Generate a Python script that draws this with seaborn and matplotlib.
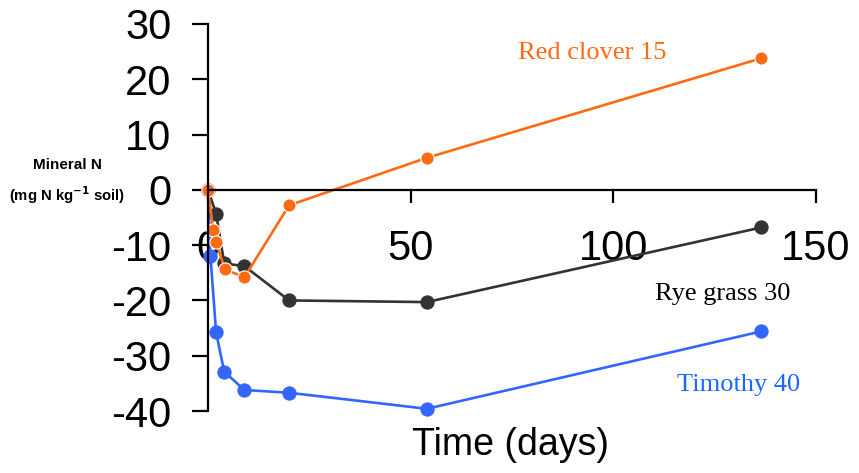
import matplotlib
matplotlib.use("Agg")
import matplotlib.pyplot as plt
import seaborn as sns
import pandas as pd

# Mineral N change over time for three incorporated residues
clover_days = [0, 1.3, 2, 4.2, 9, 20, 54, 136.5]
clover_n = [0, -7.3, -9.5, -14.4, -15.8, -2.8, 5.8, 23.8]

rye_days = [0, 2, 4, 9, 20, 54, 136.5]
rye_n = [0, -4.3, -13.3, -13.8, -20.0, -20.3, -6.8]

timothy_days = [0, 0.6, 2, 4, 9, 20, 54, 136.5]
timothy_n = [0, -12.0, -25.8, -32.9, -36.2, -36.7, -39.6, -25.6]

series_names = ["Timothy 40", "Rye grass 30", "Red clover 15"]
colors = {"Timothy 40": "#3366ff", "Rye grass 30": "#333333", "Red clover 15": "#ff6a13"}

x_ticks = [0, 50, 100, 150]
y_ticks = [30, 20, 10, 0, -10, -20, -30, -40]

frames = []
for name, d, v in [("Timothy 40", timothy_days, timothy_n),
                   ("Rye grass 30", rye_days, rye_n),
                   ("Red clover 15", clover_days, clover_n)]:
    frames.append(pd.DataFrame({"day": d, "n": v, "residue": name}))
df = pd.concat(frames, ignore_index=True)

sns.set_theme(style="white")
plt.rcParams["font.family"] = ["Liberation Sans", "DejaVu Sans"]

fig = plt.figure(figsize=(8.59, 4.73), dpi=100)
ax = fig.add_axes([208 / 859, 1 - 411 / 473, 608 / 859, 387 / 473])

for name in series_names:
    sub = df[df["residue"] == name]
    edge = "white" if name == "Red clover 15" else colors[name]
    sns.lineplot(data=sub, x="day", y="n", ax=ax, sort=False, color=colors[name],
                 linewidth=1.9, marker="o", markersize=9.5, markeredgecolor=edge,
                 markeredgewidth=0.8, clip_on=False, legend=False)

ax.set_xlim(0, 150)
ax.set_ylim(-40, 30)
ax.set_xticks(x_ticks)
ax.set_yticks(y_ticks)
ax.set_xticklabels([str(t) for t in x_ticks])
ax.set_yticklabels([str(t) for t in y_ticks])

for side in ["top", "right"]:
    ax.spines[side].set_visible(False)
ax.spines["bottom"].set_position(("data", 0))
for side in ["left", "bottom"]:
    ax.spines[side].set_color("black")
    ax.spines[side].set_linewidth(1.6)

ax.tick_params(axis="x", direction="out", length=9.5, width=1.6, pad=19,
               labelsize=30, colors="black", bottom=True)
ax.tick_params(axis="y", direction="out", length=11.5, width=1.6, pad=15,
               labelsize=30, colors="black", left=True)
ax.set_xlabel("")
ax.set_ylabel("")

fig.text(511 / 859, 1 - 445 / 473, "Time (days)", ha="center", va="center",
         fontsize=27, color="black")
fig.text(67 / 859, 1 - 165 / 473, "Mineral N", ha="center", va="center",
         fontsize=11, fontweight="bold", color="black")
fig.text(67 / 859, 1 - 195 / 473, "(mg N kg$^{\\mathbf{-1}}$ soil)", ha="center",
         va="center", fontsize=10.7, fontweight="bold", color="black")

serif = ["Liberation Serif", "DejaVu Serif"]
fig.text(518 / 859, 1 - 59 / 473, "Red clover 15", ha="left", va="baseline",
         fontsize=19, color="#ff6a13", family=serif)
fig.text(655 / 859, 1 - 300 / 473, "Rye grass 30", ha="left", va="baseline",
         fontsize=19, color="black", family=serif)
fig.text(677 / 859, 1 - 391 / 473, "Timothy 40", ha="left", va="baseline",
         fontsize=19, color="#1a66ff", family=serif)

fig.savefig("out.png", dpi=100, facecolor="white")
